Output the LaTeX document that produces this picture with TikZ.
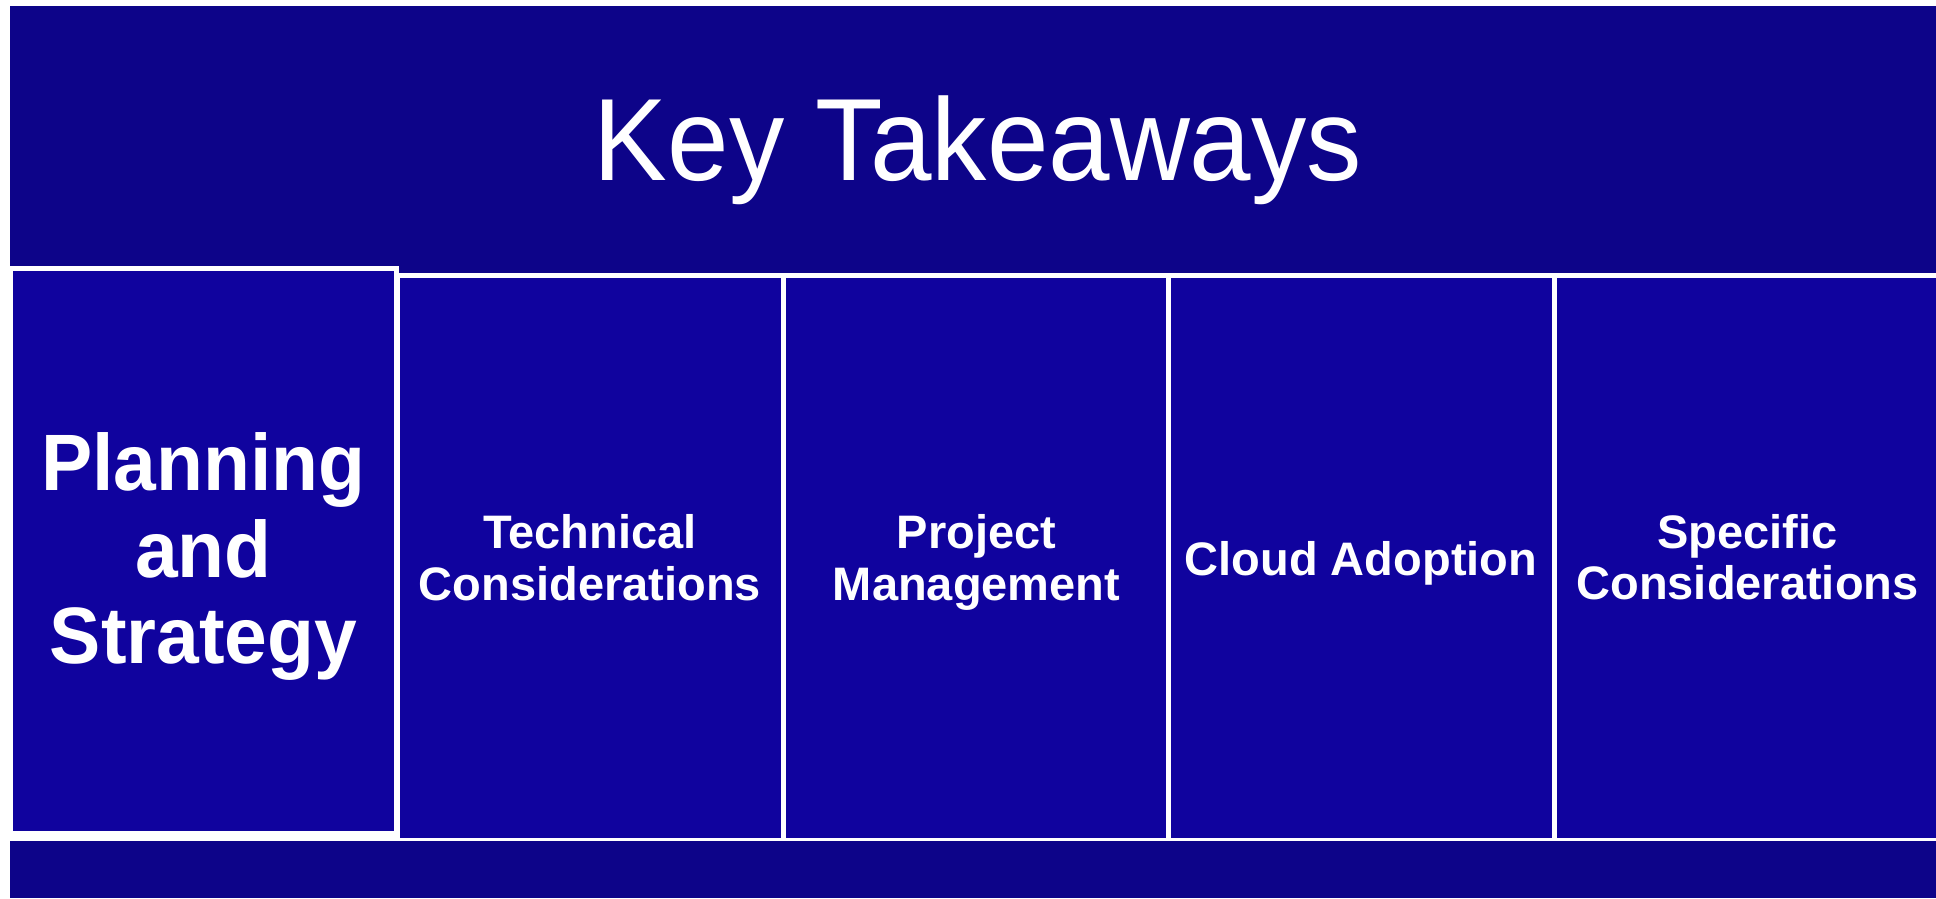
\documentclass[tikz,border=0pt]{standalone}
\usepackage{fontspec}
\setmainfont{Liberation Sans}
\usepackage{graphicx}
\definecolor{banner}{HTML}{0D0489}
\definecolor{boxfill}{HTML}{10039E}
\begin{document}
\begin{tikzpicture}[x=1pt,y=-1pt,
  area/.style={rectangle, draw=none, inner sep=0pt, outer sep=0pt, anchor=north west},
  colbox/.style={area, fill=boxfill},
  whitebox/.style={area, fill=white},
  coltext/.style={text=white, inner sep=0pt, align=center,
    font=\bfseries\fontsize{47}{51.7}\selectfont},
  bigtext/.style={text=white, inner sep=0pt, align=center,
    font=\bfseries\fontsize{80}{86.5}\selectfont},
  titletext/.style={text=white, inner sep=0pt,
    font=\fontsize{117}{130}\selectfont}]
\useasboundingbox (0,0) rectangle (1936,898);
\fill[white] (0,0) rectangle (1936,898);
% banner
\node[area, fill=banner, minimum width=1926pt, minimum height=892pt] (banner) at (10,6) {};
\node[titletext] (title) at (978,150.5) {\scalebox{0.945}[1]{Key Takeaways}};
% column frame
\node[whitebox, minimum width=1539pt, minimum height=568pt] (frame) at (397,273) {};
% planning box
\node[whitebox, minimum width=389pt, minimum height=575pt] (pframe) at (10,266) {};
\node[colbox, minimum width=381pt, minimum height=560pt] (plan) at (13,271) {};
% columns
\node[colbox, minimum width=381pt, minimum height=560pt] (tech) at (399.5,278) {};
\node[colbox, minimum width=380pt, minimum height=560pt] (proj) at (785.5,278) {};
\node[colbox, minimum width=381.5pt, minimum height=560pt] (cloud) at (1170.5,278) {};
\node[colbox, minimum width=379pt, minimum height=560pt] (spec) at (1557,278) {};
% texts
\node[bigtext] (plant) at (203.5,556.8) {\scalebox{0.96}[1]{Planning}\\\scalebox{0.96}[1]{and}\\\scalebox{0.96}[1]{Strategy}};
\node[coltext] (techt) at (590,557.5) {Technical\\Considerations};
\node[coltext] (projt) at (976.5,562.3) {Project\\Management};
\node[coltext] (cloudt) at (1361,563.1) {Cloud Adoption};
\node[coltext] (spect) at (1747.5,557.2) {Specific\\Considerations};
\end{tikzpicture}
\end{document}
